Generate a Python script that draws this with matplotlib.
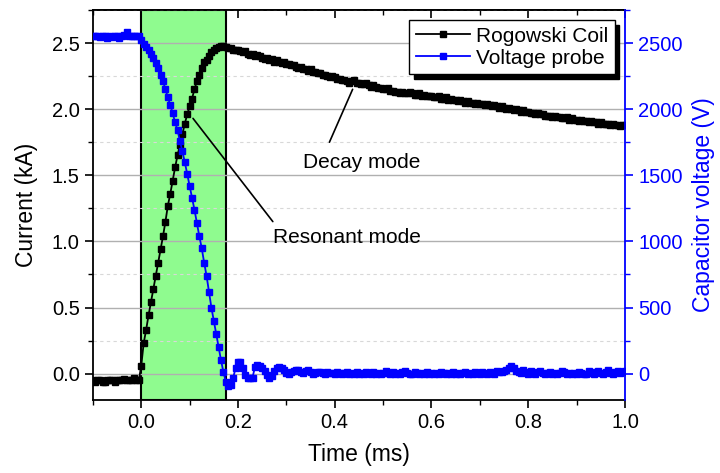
import numpy as np
import matplotlib.pyplot as plt
from matplotlib.ticker import MultipleLocator

plt.rcParams['font.family'] = ['Liberation Sans', 'DejaVu Sans']

# --- data (sampled every 5 us) ---
time_ms = np.round(np.arange(-0.1, 1.0001, 0.005), 3)

current_pre = [-0.05, -0.06, -0.05, -0.05, -0.06, -0.06, -0.05, -0.05, -0.05, -0.06,
               -0.05, -0.05, -0.05, -0.04, -0.05, -0.05, -0.05, -0.03, -0.05, -0.05]
current_rise = [0.06, 0.23, 0.33, 0.44, 0.54, 0.64, 0.74, 0.84, 0.94, 1.04,
                1.15, 1.27, 1.36, 1.46, 1.56, 1.65, 1.73, 1.81, 1.89, 1.96,
                2.02, 2.08, 2.15, 2.21, 2.26, 2.31, 2.36, 2.37, 2.40, 2.43,
                2.45, 2.46, 2.47, 2.48, 2.48, 2.47]
current_decay = [2.46, 2.46, 2.45, 2.45,
                 2.45, 2.44, 2.43, 2.44, 2.42, 2.41, 2.42, 2.40, 2.41, 2.40,
                 2.39, 2.38, 2.39, 2.37, 2.38, 2.36, 2.37, 2.36, 2.35, 2.36,
                 2.34, 2.34, 2.33, 2.33, 2.32, 2.31, 2.32, 2.30, 2.30, 2.29,
                 2.30, 2.28, 2.28, 2.27, 2.27, 2.26, 2.26, 2.25, 2.24, 2.25,
                 2.24, 2.23, 2.23, 2.22, 2.22, 2.21, 2.20, 2.21, 2.22, 2.20,
                 2.20, 2.19, 2.19, 2.20, 2.18, 2.17, 2.18, 2.17, 2.16, 2.16,
                 2.15, 2.15, 2.16, 2.14, 2.14, 2.13, 2.13, 2.12, 2.13, 2.12,
                 2.12, 2.13, 2.12, 2.11, 2.11, 2.12, 2.10, 2.11, 2.10, 2.10,
                 2.10, 2.09, 2.09, 2.10, 2.08, 2.08, 2.09, 2.07, 2.08, 2.07,
                 2.07, 2.06, 2.07, 2.06, 2.05, 2.06, 2.05, 2.05, 2.04, 2.05,
                 2.04, 2.04, 2.03, 2.04, 2.03, 2.02, 2.03, 2.02, 2.01, 2.02,
                 2.01, 2.00, 2.01, 2.00, 1.99, 2.00, 1.99, 1.98, 1.99, 1.98,
                 1.98, 1.97, 1.97, 1.96, 1.97, 1.96, 1.96, 1.95, 1.95, 1.95,
                 1.94, 1.95, 1.94, 1.94, 1.93, 1.93, 1.94, 1.92, 1.93, 1.92,
                 1.92, 1.91, 1.92, 1.91, 1.91, 1.90, 1.91, 1.90, 1.90, 1.89,
                 1.90, 1.89, 1.89, 1.89, 1.88, 1.89, 1.88, 1.88, 1.87, 1.88,
                 1.88]
current_kA = np.array(current_pre + current_rise + current_decay)

voltage_pre = [2550, 2555, 2550, 2545, 2550, 2555, 2540, 2550, 2545, 2550,
               2555, 2540, 2550, 2560, 2580, 2555, 2550, 2555, 2550, 2550]
voltage_fall = [2520, 2490, 2470, 2450, 2420, 2390, 2350, 2310, 2260, 2210,
                2150, 2090, 2030, 1970, 1900, 1840, 1760, 1680, 1600, 1510,
                1420, 1330, 1240, 1140, 1040, 950, 840, 740, 620, 500,
                400, 300, 200, 100, 10, -60]
voltage_ring = [-95, -85, -30, 40, 90, 85, 40, -10, -30, -35,
                -30, 50, 65, 60, 45, 20, -10, -30, -20, 20,
                40, 50, 45, 25, 5, 0, 10, 20, 30, 25,
                10, 5, 20, 25, 10, 0, 5, 15, 10, 5,
                0, 10, 5,
                5, 0, 10, 5, 0, 5, 15, 0, 5, 0,
                10, 0, 5, 0, 15, 5, 0, 10, 0, 5,
                0, 5, 20, 5, 0, 10, 0, 5, 0, 10,
                20, 5, 0, 0, 10, 5, 0, 5, 0, 10,
                0, 5, 0, 5, 0, 15, 5, 0, 5, 0,
                10, 0, 5, 0, 5, 10, 0, 5, 0, 15,
                5, 0, 10, 5, 0, 10, 5, 0, 20, 10,
                15, 20, 30, 45, 55, 40, 20, 10, 5, 25,
                10, 0, 20, 5, 0, 15, 20, 5, 0, 5,
                10, 0, 5, 0, 5, 20, 10, 0, 5, 0,
                5, 0, 10, 5, 0, 0, 20, 5, 0, 10,
                20, 5, 0, 10, 25, 5, 0, 10, 20, 5,
                10, 20]
voltage_V = np.array(voltage_pre + voltage_fall + voltage_ring)

resonant_end = 0.175

# --- plot ---
fig = plt.figure(figsize=(7.2, 4.73), dpi=100)
ax = fig.add_axes([0.129, 0.154, 0.739, 0.825])
ax2 = ax.twinx()

ax.axvspan(0, resonant_end, facecolor='#8ffb8f', edgecolor='black', linewidth=1.5, zorder=1)

ax.grid(True, which='major', axis='y', color='#b0b0b0', linewidth=1.0, linestyle='-')
ax.grid(True, which='minor', axis='y', color='#d8d8d8', linewidth=0.8, linestyle=(0, (3, 3)))

l1, = ax.plot(time_ms, current_kA, color='black', marker='s', markersize=3.8,
              linewidth=1.3, label='Rogowski Coil', zorder=3)
l2, = ax2.plot(time_ms, voltage_V, color='blue', marker='s', markersize=3.8,
               linewidth=1.3, label='Voltage probe', zorder=3)

ax.set_xlim(-0.1, 1.0)
ax.set_ylim(-0.2, 2.75)
ax2.set_ylim(-200, 2750)

ax.xaxis.set_major_locator(MultipleLocator(0.2))
ax.xaxis.set_minor_locator(MultipleLocator(0.1))
ax.yaxis.set_major_locator(MultipleLocator(0.5))
ax.yaxis.set_minor_locator(MultipleLocator(0.25))
ax2.yaxis.set_major_locator(MultipleLocator(500))
ax2.yaxis.set_minor_locator(MultipleLocator(250))
ax.xaxis.set_major_formatter(lambda v, p: f"{v:.1f}")
ax.yaxis.set_major_formatter(lambda v, p: f"{v:.1f}")

ax.tick_params(axis='both', which='major', direction='out', length=6, width=1.2, labelsize=14.5)
ax.tick_params(axis='both', which='minor', direction='out', length=3.5, width=1.0)

top = ax.secondary_xaxis('top')
top.xaxis.set_major_locator(MultipleLocator(0.2))
top.xaxis.set_minor_locator(MultipleLocator(0.1))
top.tick_params(which='major', direction='in', length=6, width=1.2, labeltop=False)
top.tick_params(which='minor', direction='in', length=3.5, width=1.0)

ax2.tick_params(axis='y', which='major', direction='out', length=6, width=1.2,
                colors='blue', labelsize=14.5)
ax2.tick_params(axis='y', which='minor', direction='out', length=3.5, width=1.0, colors='blue')
ax2.spines['right'].set_color('blue')
ax2.spines['right'].set_linewidth(1.3)
for s in ['left', 'top', 'bottom']:
    ax.spines[s].set_linewidth(1.3)
    ax2.spines[s].set_visible(False)
ax.spines['right'].set_visible(False)
top.spines['top'].set_linewidth(1.3)

ax.set_xlabel('Time (ms)', fontsize=16.5, labelpad=8)
ax.set_ylabel('Current (kA)', fontsize=16.5, labelpad=10)
ax2.set_ylabel('Capacitor voltage (V)', fontsize=16.5, color='blue', labelpad=7)

# annotations
ax.annotate('', xy=(0.437, 2.15), xytext=(0.389, 1.75),
            arrowprops=dict(arrowstyle='-', color='black', lw=1.2, shrinkA=0, shrinkB=0))
ax.text(0.456, 1.60, 'Decay mode', fontsize=15, ha='center', va='center')
ax.annotate('', xy=(0.107, 1.93), xytext=(0.272, 1.15),
            arrowprops=dict(arrowstyle='-', color='black', lw=1.2, shrinkA=0, shrinkB=0))
ax.text(0.425, 1.03, 'Resonant mode', fontsize=15, ha='center', va='center')

leg = ax2.legend(handles=[l1, l2], loc='upper right', fontsize=15, fancybox=False,
                 edgecolor='black', framealpha=1, handlelength=2.6, borderpad=0.3,
                 labelspacing=0.15, handletextpad=0.3, borderaxespad=0.5,
                 shadow={'ox': 3.5, 'oy': -3.5, 'facecolor': 'black', 'edgecolor': 'black', 'alpha': 1})
leg.get_frame().set_linewidth(1.0)

fig.savefig('out.png', dpi=100)
